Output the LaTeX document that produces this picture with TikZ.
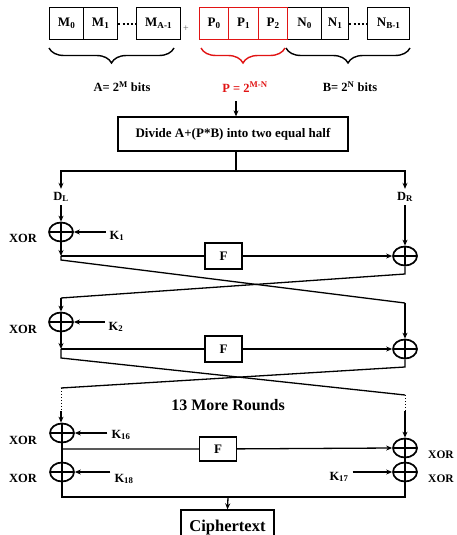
\documentclass[tikz,border=0pt]{standalone}
\usepackage{fontspec}
\setmainfont{Liberation Serif}
\usetikzlibrary{shapes.geometric,decorations.pathreplacing,arrows.meta}
\definecolor{pred}{RGB}{225,20,20}
\begin{document}
\begin{tikzpicture}[x=1pt,y=-1pt,
  font=\bfseries\fontsize{13}{15}\selectfont,
  cell/.style={draw, line width=1.3pt, minimum height=32pt, inner sep=0pt, anchor=north west},
  xorn/.style={ellipse, draw, line width=1.7pt, minimum width=24pt, minimum height=19pt, inner sep=0pt,
    path picture={\draw[line width=1.7pt] (path picture bounding box.north) -- (path picture bounding box.south)
      (path picture bounding box.west) -- (path picture bounding box.east);}},
  fboxn/.style={draw, line width=1.3pt, minimum width=37pt, minimum height=26pt, inner sep=0pt},
  ln/.style={line width=1.3pt},
  arr/.style={ln, -{Stealth[length=6pt,width=5pt]}},
  brc/.style={decorate, decoration={brace, mirror, amplitude=15pt}, line width=1.4pt},
  lab/.style={font=\bfseries\fontsize{12.5}{14}\selectfont},
  klab/.style={font=\bfseries\fontsize{12.5}{14}\selectfont, inner sep=4pt},
]
\clip (0,0) rectangle (456,535);
\fill[white] (0,0) rectangle (456,535);

% top row
\node[cell, minimum width=34pt] (m0) at (49,7) {M\textsubscript{0}};
\node[cell, minimum width=34pt] (m1) at (83,7) {M\textsubscript{1}};
\node[cell, minimum width=44pt] (ma) at (136,7) {M\textsubscript{A-1}};
\node[cell, minimum width=34pt] (n0) at (287,7) {N\textsubscript{0}};
\node[cell, minimum width=27pt] (n1) at (321,7) {N\textsubscript{1}};
\node[cell, minimum width=42pt] (nb) at (367,7) {N\textsubscript{B-1}};
\node[cell, draw=pred, minimum width=29pt] (p0) at (199,7) {P\textsubscript{0}};
\node[cell, draw=pred, minimum width=30pt] (p1) at (228,7) {P\textsubscript{1}};
\node[cell, draw=pred, minimum width=29pt] (p2) at (258,7) {P\textsubscript{2}};
\draw[line width=2.2pt, dash pattern=on 2pt off 2.2pt] (m1.east) -- (ma.west);
\draw[line width=2.2pt, dash pattern=on 2pt off 2.2pt] (n1.east) -- (nb.west);
\node[font=\fontsize{10}{12}\selectfont, text=black!60] (plus) at (186,29) {+};

% braces
\draw[brc] (49,48) -- (174,48);
\draw[brc, draw=pred] (201,48) -- (285,48);
\draw[brc] (286,48) -- (410,48);
\node[lab] (alab) at (122,87) {A= 2\textsuperscript{M} bits};
\node[lab, text=pred] (plab) at (245,87) {P = 2\textsuperscript{M-N}};
\node[lab] (blab) at (350,87) {B= 2\textsuperscript{N} bits};

% divide
\node[draw, line width=1.3pt, minimum width=230pt, minimum height=34pt, inner sep=0pt] (div) at (233,134) {Divide A+(P*B) into two equal half};
\coordinate (top) at (236,101);
\draw[arr] (top) -- (top |- div.north);
\coordinate (split) at (236,171);
\coordinate (sl) at (61,171);
\coordinate (sr) at (405,171);
\draw[ln] (div.south -| split) -- (split);
\node[lab, inner sep=3pt] (dl) at (61,197) {D\textsubscript{L}};
\node[lab, inner sep=3pt] (dr) at (405,197) {D\textsubscript{R}};
\draw[arr] (split) -- (sl) -- (dl.north);
\draw[arr] (split) -- (sr) -- (dr.north);

% XOR nodes
\node[xorn] (x1) at (61,232) {};
\node[xorn] (xr1) at (405,256) {};
\node[xorn] (x2) at (61,322) {};
\node[xorn] (xr2) at (405,349) {};
\node[xorn] (x3) at (62,433) {};
\node[xorn] (xr3) at (405,448) {};
\node[xorn] (x4) at (62,472) {};
\node[xorn] (xr4) at (405,472) {};

\node[lab] (xl1) at (23,238) {XOR};
\node[lab] (xl2) at (23,329) {XOR};
\node[lab] (xl3) at (23,440) {XOR};
\node[lab] (xl4) at (23,478) {XOR};
\node[font=\bfseries\fontsize{11.5}{13}\selectfont, anchor=west, inner sep=0pt] (xl5) at (428,455) {XOR};
\node[font=\bfseries\fontsize{11.5}{13}\selectfont, anchor=west, inner sep=0pt] (xl6) at (428,479) {XOR};

% keys
\node[klab] (k1) at (117,236) {K\textsubscript{1}};
\node[klab] (k2) at (116,327) {K\textsubscript{2}};
\node[klab] (k16) at (121,435) {K\textsubscript{16}};
\node[klab] (k18) at (124,479) {K\textsubscript{18}};
\node[klab] (k17) at (339,477) {K\textsubscript{17}};
\draw[arr] (k1.west |- x1) -- (x1.east);
\draw[arr] (k2.west |- x2) -- (x2.east);
\draw[arr] (k16.west |- x3) -- (x3.east);
\draw[arr] (k18.west |- x4) -- (x4.east);
\draw[arr] (k17.east |- xr4) -- (xr4.west);

\draw[arr] (dl.south) -- (x1.north);
\draw[arr] (dr.south) -- (xr1.north);

% round 1
\node[fboxn] (f1) at (223.5,256) {F};
\coordinate (a1) at (61,256);
\coordinate (c1) at (61,260);
\coordinate (d1) at (405,303);
\coordinate (e1) at (405,274);
\coordinate (g1) at (61,298);
\draw[arr] (x1.south) -- (a1);
\draw[arr] (a1) -- (f1) -- (xr1.west);
\draw[ln] (a1) -- (c1) -- (d1);
\draw[arr] (d1) -- (xr2.north);
\draw[ln] (xr1.south) -- (e1) -- (g1);
\draw[arr] (g1) -- (x2.north);

% round 2
\node[fboxn] (f2) at (223.5,349) {F};
\coordinate (a2) at (61,349);
\coordinate (c2) at (61,358);
\coordinate (d2) at (405,395);
\coordinate (e2) at (405,367);
\coordinate (g2) at (61,388);
\coordinate (hl) at (61,411);
\coordinate (hr) at (405,411);
\draw[arr] (x2.south) -- (a2);
\draw[arr] (a2) -- (f2) -- (xr2.west);
\draw[ln] (a2) -- (c2) -- (d2);
\draw[ln] (xr2.south) -- (e2) -- (g2);
\draw[line width=1pt, dotted] (g2) -- (hl);
\draw[line width=1pt, dotted] (d2) -- (hr);
\draw[arr] (hl) -- (x3.north -| hl);
\draw[arr] (hr) -- (xr3.north);

\node[font=\bfseries\fontsize{16}{18}\selectfont] (more) at (228,405) {13 More Rounds};

% last round
\node[fboxn, minimum height=24pt] (f3) at (218,449) {F};
\coordinate (a3) at (62,449);
\draw[ln] (x3.south) -- (x4.north);
\draw[arr] (a3) -- (f3) -- (xr3.west);
\draw[ln] (xr3.south) -- (xr4.north);

% output
\coordinate (bl) at (62,497);
\coordinate (br) at (405,497);
\coordinate (bm) at (228,497);
\draw[ln] (x4.south) -- (bl) -- (br) -- (xr4.south);
\node[draw, line width=1.3pt, minimum width=93pt, minimum height=36pt, inner sep=0pt,
  font=\bfseries\fontsize{16.5}{18}\selectfont] (ct) at (227.5,528) {Ciphertext};
\draw[arr] (bm) -- (ct.north);
\end{tikzpicture}
\end{document}
